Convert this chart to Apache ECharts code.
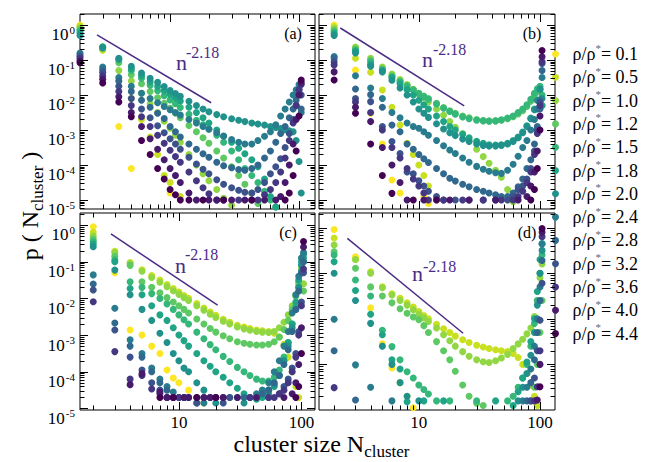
<!DOCTYPE html>
<html><head><meta charset="utf-8">
<script src="https://cdn.jsdelivr.net/npm/echarts@6/dist/echarts.min.js"></script>
<style>html,body{margin:0;padding:0;background:#fff}#c{width:651px;height:462px}</style>
</head><body><div id="c"></div>
<script>
const _ = null;
// cluster sizes at which values were read
const sizes = [2,3,4,5,6,7,8,9, 10,11,12,14,16,18,20,23, 26,30,34,38,43,48,54,60, 66,72,78,84,90,95,100,104];
const densities = ['0.1','0.5','1.0','1.2','1.5','1.8','2.0','2.4','2.8','3.2','3.6','4.0','4.4'];
const colors = ['#fde725','#c8e020','#90d743','#5ec962','#35b779','#20a486','#21918c','#287c8e','#31688e','#3b528b','#453781','#481a6c','#440154'];
const xTickLabels = ['10','100'];
const yTickExponents = [0,-1,-2,-3,-4,-5];

// values, as decades: log10 p(N_cluster)
// panel (a)
const a_01 = [0.0,-1.5,-2.9,-4.1,_,_,_,_, -4.8,_,_,_,_,_,_,_, _,_,_,_,_,_,_,_, _,_,_,_,_,_,_,_];
const a_05 = [-0.03,-0.72,-1.6,-2.1,-2.7,-3.2,-3.7,-4.3, -4.5,_,-4.9,_,_,_,_,_, _,_,_,_,_,_,_,_, _,_,_,_,_,_,_,_];
const a_10 = [-0.08,-0.68,-1.3,-1.6,-1.95,-2.25,-2.5,-2.75, -2.95,-3.15,-3.35,-3.7,-4.0,-4.25,-4.45,-4.7, -4.95,-5.15,_,_,_,_,_,_, _,_,_,_,_,_,_,_];
const a_12 = [-0.12,-0.64,-1.08,-1.42,-1.68,-1.9,-2.08,-2.24, -2.38,-2.52,-2.65,-2.87,-3.05,-3.22,-3.38,-3.6, -3.8,-4.05,-4.3,-4.55,-4.8,-5.1,_,_, _,_,_,_,_,_,_,_];
const a_15 = [-0.17,-0.62,-1.0,-1.3,-1.52,-1.72,-1.88,-2.02, -2.14,-2.25,-2.36,-2.55,-2.72,-2.85,-2.97,-3.15, -3.35,-3.6,-3.85,-4.1,-4.3,-4.5,-4.75,-5.0, -5.2,_,_,_,_,_,_,_];
const a_18 = [-0.22,-0.63,-0.98,-1.25,-1.45,-1.62,-1.76,-1.88, -1.98,-2.08,-2.17,-2.35,-2.5,-2.65,-2.8,-3.0, -3.18,-3.35,-3.52,-3.68,-3.85,-4.05,-4.4,-4.9, -5.2,_,_,_,_,_,_,_];
const a_20 = [-0.3,-0.66,-0.95,-1.18,-1.37,-1.52,-1.64,-1.76, -1.87,-1.96,-2.04,-2.18,-2.3,-2.4,-2.48,-2.56, -2.62,-2.68,-2.72,-2.76,-2.8,-2.83,-2.86,-2.9, -2.93,-2.96,-2.99,-3.02,-3.05,-3.3,-3.9,-4.8];
const a_24 = [-0.8,-1.2,-1.5,-1.75,-1.95,-2.1,-2.22,-2.33, -2.42,-2.5,-2.57,-2.7,-2.8,-2.9,-2.98,-3.08, -3.17,-3.27,-3.35,-3.4,-3.4,-3.3,-3.18,-3.05, -2.85,-2.6,-2.4,-2.2,-2.0,-1.85,-1.7,-2.5];
const a_28 = [-0.85,-1.28,-1.6,-1.9,-2.15,-2.35,-2.52,-2.67, -2.9,-3.05,-3.2,-3.4,-3.55,-3.68,-3.78,-3.92, -4.02,-4.08,-4.13,-4.15,-4.1,-4.0,-3.8,-3.6, -3.35,-3.1,-2.9,-2.65,-2.4,-2.15,-1.95,-2.4];
const a_32 = [-0.9,-1.35,-1.75,-2.1,-2.4,-2.65,-2.88,-3.08, -3.25,-3.4,-3.55,-3.78,-3.97,-4.12,-4.25,-4.42, -4.55,-4.65,-4.72,-4.78,-4.8,-4.7,-4.5,-4.25, -4.05,-3.82,-3.5,-3.1,-2.7,-2.3,-1.85,-2.0];
const a_36 = [-0.95,-1.45,-1.9,-2.3,-2.62,-2.9,-3.15,-3.38, -3.58,-3.76,-3.92,-4.2,-4.45,-4.65,-4.82,-5.0, -5.0,_,-5.0,_,-5.0,-5.0,-4.85,-4.7, -4.5,-4.2,-3.8,-3.3,-2.8,-2.3,-1.85,-1.7];
const a_40 = [-1.02,-1.55,-2.05,-2.5,-2.9,-3.25,-3.55,-3.85, -4.1,-4.3,-4.5,-4.8,-5.0,_,-5.0,-5.0, _,-5.0,_,-5.0,_,_,-5.0,_, -5.0,-4.9,-4.5,-4.0,-3.4,-2.7,-2.0,-1.65];
const a_44 = [-1.08,-1.66,-2.2,-2.62,-3.3,-3.7,-4.1,-4.4, -4.7,-4.85,-5.0,-5.0,_,-5.0,_,_, -5.0,_,_,_,-5.0,_,_,_, _,_,-5.0,-4.8,-4.3,-3.6,-2.6,-1.57];
// panel (b)
const b_01 = [0.0,-1.29,-2.52,-3.4,-4.43,-4.8,_,_, _,-4.9,-5.1,_,_,_,_,_, _,_,_,_,_,_,_,_, _,_,_,_,_,_,_,_];
const b_05 = [-0.05,-0.95,-1.35,-1.86,-2.35,-2.86,-3.38,-3.7, -4.0,-4.3,-4.6,-5.0,_,_,_,_, _,_,_,_,_,_,_,_, _,_,_,_,_,_,_,_];
const b_10 = [-0.1,-0.63,-0.95,-1.2,-1.4,-1.56,-1.7,-1.84, -1.97,-2.08,-2.2,-2.4,-2.58,-2.76,-2.92,-3.1, -3.3,-3.55,-3.76,-3.95,-4.15,-4.35,-4.7,-5.05, _,_,_,_,_,_,_,_];
const b_12 = [-0.15,-0.68,-1.0,-1.25,-1.45,-1.6,-1.73,-1.85, -1.95,-2.03,-2.1,-2.24,-2.36,-2.45,-2.52,-2.6, -2.65,-2.7,-2.73,-2.74,-2.74,-2.72,-2.68,-2.62, -2.54,-2.45,-2.33,-2.18,-2.0,-1.9,-1.85,-2.3];
const b_15 = [-0.2,-0.72,-1.05,-1.28,-1.48,-1.62,-1.75,-1.86, -1.96,-2.05,-2.12,-2.26,-2.38,-2.47,-2.55,-2.63, -2.68,-2.72,-2.74,-2.75,-2.74,-2.71,-2.66,-2.6, -2.5,-2.4,-2.28,-2.12,-1.95,-1.82,-1.75,-2.0];
const b_18 = [-0.25,-0.75,-1.12,-1.3,-1.5,-1.68,-1.85,-2.0, -2.15,-2.28,-2.4,-2.6,-2.76,-2.9,-3.0,-3.12, -3.22,-3.32,-3.38,-3.42,-3.43,-3.42,-3.38,-3.3, -3.2,-3.06,-2.88,-2.66,-2.4,-2.15,-1.85,-2.3];
const b_20 = [-0.3,-0.8,-1.18,-1.34,-1.58,-1.8,-2.0,-2.2, -2.4,-2.52,-2.64,-2.82,-2.97,-3.08,-3.16,-3.26, -3.33,-3.4,-3.44,-3.46,-3.46,-3.44,-3.4,-3.33, -3.22,-3.08,-2.9,-2.68,-2.42,-2.15,-1.82,-2.1];
const b_24 = [-0.9,-1.45,-1.8,-2.1,-2.5,-2.65,-2.8,-2.9, -2.95,-3.05,-3.15,-3.3,-3.45,-3.57,-3.67,-3.8, -3.92,-4.04,-4.12,-4.18,-4.22,-4.24,-4.15,-3.98, -3.75,-3.5,-3.3,-3.0,-2.7,-2.4,-2.14,-1.5];
const b_28 = [-0.95,-1.83,-1.99,-2.35,-2.86,-3.05,-3.4,-3.55, -3.7,-3.82,-3.93,-4.1,-4.25,-4.38,-4.46,-4.55, -4.62,-4.7,-4.75,-4.8,-4.85,-4.9,-4.9,-4.8, -4.62,-4.4,-4.1,-3.85,-3.4,-2.9,-2.4,-1.3];
const b_32 = [-1.05,-2.1,-2.19,-2.9,-3.33,-3.67,-4.2,-4.25, -4.45,-4.6,-4.75,-4.9,-5.0,_,-5.0,_, -5.0,_,-5.0,_,-5.0,_,-5.0,-4.9, -4.7,-4.6,-4.4,-4.1,-3.6,-3.0,-2.2,-1.1];
const b_36 = [-1.14,-2.2,-2.5,-3.0,-3.5,-3.8,-4.1,-4.4, -4.6,-4.8,-5.0,_,-5.0,_,_,-5.0, _,_,-5.0,_,_,-5.0,_,-5.0, -4.9,-4.75,-4.5,-4.2,-3.7,-3.1,-2.3,-1.05];
const b_40 = [-1.34,-2.35,-2.76,-3.5,-4.0,-4.5,-5.0,_, _,-5.0,_,_,_,-5.0,_,_, -5.0,_,_,_,-5.0,_,_,_, -5.0,_,-4.9,-4.6,-4.2,-3.6,-2.6,-0.91];
const b_44 = [-1.57,-2.52,-3.4,-4.3,-4.81,_,_,-5.0, _,_,_,-5.0,_,_,_,_, _,_,_,_,_,_,_,_, _,_,_,-5.0,-4.7,-4.1,-3.0,-0.73];
// panel (c)
const c_01 = [-0.05,-1.3,-2.86,-3.0,-3.3,-3.5,-3.95,-4.17, -4.3,_,-4.5,-4.7,-4.85,_,_,_, _,_,_,_,_,_,_,_, _,_,_,_,_,_,_,_];
const c_05 = [-0.2,-0.72,-1.02,-1.22,-1.38,-1.5,-1.62,-1.73, -1.83,-1.92,-2.0,-2.14,-2.26,-2.37,-2.46,-2.57, -2.65,-2.73,-2.78,-2.82,-2.86,-2.88,-2.9,-2.95, -3.05,-3.25,-3.6,-4.0,-4.4,-4.7,_,_];
const c_10 = [-0.3,-0.75,-1.05,-1.26,-1.43,-1.56,-1.68,-1.79, -1.89,-1.98,-2.06,-2.2,-2.32,-2.43,-2.52,-2.62, -2.7,-2.78,-2.83,-2.87,-2.9,-2.92,-2.93,-2.9, -2.8,-2.65,-2.45,-2.2,-1.9,-1.55,-1.2,-1.6];
const c_12 = [-0.38,-0.85,-1.1,-1.55,-1.7,-1.85,-1.98,-2.1, -2.2,-2.3,-2.4,-2.56,-2.7,-2.82,-2.92,-3.02, -3.1,-3.18,-3.22,-3.25,-3.27,-3.27,-3.25,-3.18, -3.05,-2.85,-2.6,-2.3,-1.95,-1.6,-1.3,-1.8];
const c_15 = [-0.45,-0.95,-1.55,-1.7,-1.87,-2.0,-2.15,-2.3, -2.45,-2.58,-2.7,-2.92,-3.1,-3.26,-3.4,-3.58, -3.72,-3.88,-4.0,-4.1,-4.2,-4.25,-4.25,-4.15, -3.95,-3.6,-3.2,-2.7,-2.2,-1.7,-1.25,-1.0];
const c_18 = [-0.52,-1.0,-1.73,-1.9,-2.2,-2.45,-2.6,-2.8, -3.0,-3.15,-3.3,-3.5,-3.7,-3.85,-4.0,-4.15, -4.3,-4.45,-4.6,-4.7,-4.75,-4.7,-4.6,-4.4, -4.1,-3.7,-3.2,-2.7,-2.1,-1.5,-1.0,-0.9];
const c_20 = [-0.59,-1.23,-1.9,-2.3,-2.6,-2.95,-3.2,-3.5, -3.7,-3.9,-4.0,-4.3,-4.5,-4.7,-4.85,_, -4.7,_,-4.85,_,-4.7,-4.6,-4.5,-4.35, -4.1,-3.7,-3.3,-2.8,-2.3,-1.7,-1.1,-0.8];
const c_24 = [-1.36,-2.27,-3.13,-3.5,-3.9,-4.2,-4.4,-4.55, -4.7,_,-4.7,_,-4.85,_,-4.7,_, _,-4.7,_,_,-4.6,-4.5,-4.3,-4.0, -3.7,-3.3,-2.9,-2.4,-1.9,-1.4,-0.9,-0.75];
const c_28 = [-1.61,-2.67,-3.3,-3.6,-4.0,-4.3,-4.5,-4.7, _,-4.7,_,-4.85,_,_,-4.7,_, _,_,-4.7,_,_,-4.6,-4.5,-4.3, -4.1,-3.8,-3.4,-2.9,-2.3,-1.8,-1.3,-1.0];
const c_32 = [-1.77,-2.86,-3.6,-3.95,-4.3,-4.5,-4.7,_, -4.7,_,-4.7,-4.85,_,-4.7,_,-4.85, -4.7,_,_,-4.7,_,_,-4.7,_, -4.6,-4.4,-4.2,-3.9,-3.5,-2.9,-2.1,-1.3];
const c_36 = [-2.09,-3.45,-4.2,-4.1,-4.47,-4.6,-4.7,_, -4.7,-4.7,_,-4.7,-4.7,_,-4.7,-4.7, _,_,_,-4.7,_,_,-4.7,-4.7, -4.6,-4.5,-4.3,-4.0,-3.6,-3.0,-2.2,-1.2];
const c_40 = [_,_,-4.35,-4.05,_,-4.55,-4.7,-4.7, _,-4.7,-4.7,_,-4.7,-4.7,_,-4.7, _,-4.7,_,_,-4.7,_,_,_, _,-4.7,_,-4.6,-4.3,-3.8,-2.8,-0.6];
const c_44 = [_,_,_,_,_,-4.7,_,-4.7, _,_,_,-4.7,_,_,-4.7,_, _,_,_,_,_,_,_,_, _,_,_,_,-4.7,-4.4,-3.5,-0.45];
// panel (d)
const d_01 = [-0.04,-0.64,-1.76,-2.55,-3.08,-3.4,-3.7,-3.95, _,_,_,_,_,_,_,_, _,_,_,_,_,_,_,_, _,_,_,_,_,_,_,_];
const d_05 = [-0.23,-0.7,-0.97,-1.3,-1.45,-1.55,-1.65,-1.74, -1.84,-1.93,-2.0,-2.12,-2.22,-2.3,-2.38,-2.46, -2.52,-2.58,-2.62,-2.65,-2.68,-2.7,-2.72,-2.76, -2.85,-3.0,-3.2,-3.45,-3.7,-3.9,_,_];
const d_10 = [-0.38,-0.7,-1.0,-1.32,-1.48,-1.6,-1.7,-1.8, -1.9,-1.98,-2.06,-2.2,-2.35,-2.48,-2.6,-2.72, -2.82,-2.9,-2.94,-2.96,-2.92,-2.86,-2.78,-2.65, -2.55,-2.45,-2.33,-2.2,-1.95,-1.6,-1.1,-0.8];
const d_12 = [-0.53,-0.89,-1.3,-1.5,-1.65,-1.78,-1.88,-1.96, -2.02,-2.15,-2.3,-2.5,-2.7,-2.9,-3.15,-3.45, -3.7,-3.85,-3.9,_,_,_,_,_, _,_,_,-3.8,-3.5,-3.0,-2.3,-1.6];
const d_15 = [-0.6,-1.15,-1.5,-2.25,-2.61,-2.9,-3.16,-3.3, -3.45,-3.55,-3.65,-3.8,_,-3.8,_,_, _,-3.8,_,_,_,_,-3.8,-3.7, -3.5,-3.3,-3.0,-2.6,-2.1,-1.6,-1.0,-0.6];
const d_18 = [-0.75,-1.38,-1.9,-2.35,-2.9,-3.1,-3.82,_, _,-3.8,_,_,-3.8,_,_,_, _,_,_,_,-3.8,_,_,-3.9, -3.6,-3.3,-2.95,-2.5,-2.0,-1.4,-0.7,-0.35];
const d_20 = [-1.0,-1.6,-2.1,-2.6,-3.0,-3.4,-3.7,_, -3.8,_,_,_,_,_,_,_, _,_,_,_,_,_,_,_, -3.8,-3.5,-3.2,-2.8,-2.3,-1.7,-1.0,-0.5];
const d_24 = [-2.01,-3.01,-3.5,_,-3.8,_,_,_, _,_,_,_,_,_,_,_, _,_,_,_,_,_,_,_, _,-3.8,-3.5,-3.1,-2.6,-2.0,-1.3,-0.36];
const d_28 = [-2.7,-3.78,_,_,_,_,_,_, _,_,_,_,_,_,_,_, _,_,_,_,_,_,_,_, _,_,-3.8,-3.4,-2.9,-2.3,-1.6,-0.72];
const d_32 = [_,_,_,_,_,_,_,_, _,_,_,_,_,_,_,_, _,_,_,_,_,_,_,_, _,_,_,-3.8,-3.3,-2.7,-2.03,-1.22];
const d_36 = [-3.51,_,_,_,_,_,_,_, _,_,_,_,_,_,_,_, _,_,_,_,_,_,_,_, _,_,_,_,-3.8,-3.49,-2.7,-0.2];
const d_40 = [_,_,_,_,_,_,_,_, _,_,_,_,_,_,_,_, _,_,_,_,_,_,_,_, _,_,_,_,_,-3.78,-3.0,-0.1];
const d_44 = [_,_,_,_,_,_,_,_, _,_,_,_,_,_,_,_, _,_,_,_,_,_,_,_, _,_,_,_,_,_,-3.49,-0.02];

// guide lines n^-2.18 : [N, p] end points
const guideA = [[2.71, 0.52], [20.8, 0.006]];
const guideB = [[2.25, 0.82], [23.7, 0.00485]];
const guideC = [[2.79, 0.569], [20.7, 0.0066]];
const guideD = [[2.57, 0.582], [23.2, 0.00481]];

const SERIF = 'Liberation Serif';
const PURPLE = '#4b2c85';

const panels = [
  {key:'a', grid:{left:80, top:14, width:235, height:195}, x:[2,133], y:[5.53e-6,2.06], showX:false, showY:true,
   sets:[a_01,a_05,a_10,a_12,a_15,a_18,a_20,a_24,a_28,a_32,a_36,a_40,a_44], guide:guideA},
  {key:'b', grid:{left:319, top:14, width:236, height:195}, x:[1.5,133], y:[5.53e-6,2.06], showX:false, showY:false,
   sets:[b_01,b_05,b_10,b_12,b_15,b_18,b_20,b_24,b_28,b_32,b_36,b_40,b_44], guide:guideB},
  {key:'c', grid:{left:80, top:213, width:235, height:197}, x:[1.56,129], y:[9.1e-6,2.12], showX:true, showY:true,
   sets:[c_01,c_05,c_10,c_12,c_15,c_18,c_20,c_24,c_28,c_32,c_36,c_40,c_44], guide:guideC},
  {key:'d', grid:{left:319, top:213, width:236, height:197}, x:[1.5,133], y:[1e-4,2.09], showX:true, showY:false,
   sets:[d_01,d_05,d_10,d_12,d_15,d_18,d_20,d_24,d_28,d_32,d_36,d_40,d_44], guide:guideD}
];

function isDecade(v) { const l = Math.log10(v); return Math.abs(l - Math.round(l)) < 1e-6; }
function xFmt(v) { if (!isDecade(v)) return ''; const s = String(Math.round(v)); return xTickLabels.indexOf(s) >= 0 ? s : ''; }
function yFmt(v) { if (!isDecade(v)) return ''; const e = Math.round(Math.log10(v)); return yTickExponents.indexOf(e) >= 0 ? '{b|10}{s|' + e + '}' : ''; }

function tickData(p) {
  const out = [];
  for (let e = -6; e <= 3; e++) {
    for (let k = 1; k <= 9; k++) {
      const v = k * Math.pow(10, e);
      if (v > p.x[0] * 1.0001 && v < p.x[1] * 0.9999) out.push([v, p.y[0], k === 1 ? 0 : 1]);
      if (v > p.y[0] * 1.0001 && v < p.y[1] * 0.9999) out.push([p.x[0], v, k === 1 ? 2 : 3]);
    }
  }
  return out;
}
function tickRenderer(p) {
  return function (params, api) {
    const kind = api.value(2);
    const L = (kind === 0 || kind === 2) ? 8 : 4.5;
    const st = {stroke:'#000', lineWidth:1};
    if (kind < 2) {
      const b = api.coord([api.value(0), p.y[0]]), t = api.coord([api.value(0), p.y[1]]);
      const x = Math.round(b[0]) + 0.5;
      return {type:'group', children:[
        {type:'line', shape:{x1:x, y1:b[1], x2:x, y2:b[1] - L}, style:st},
        {type:'line', shape:{x1:x, y1:t[1], x2:x, y2:t[1] + L}, style:st}]};
    }
    const l = api.coord([p.x[0], api.value(1)]), r = api.coord([p.x[1], api.value(1)]);
    const y = Math.round(l[1]) + 0.5;
    return {type:'group', children:[
      {type:'line', shape:{x1:l[0], y1:y, x2:l[0] + L, y2:y}, style:st},
      {type:'line', shape:{x1:r[0], y1:y, x2:r[0] - L, y2:y}, style:st}]};
  };
}

const grids = [], xAxes = [], yAxes = [], series = [];
panels.forEach((p, i) => {
  grids.push(Object.assign({show:true, borderColor:'#000', borderWidth:1, backgroundColor:'transparent', containLabel:false}, p.grid));
  xAxes.push({type:'log', logBase:10, gridIndex:i, min:p.x[0], max:p.x[1],
    axisLine:{show:false}, axisTick:{show:false}, splitLine:{show:false}, minorTick:{show:false},
    axisLabel:{show:p.showX, margin:4, fontFamily:SERIF, fontSize:17, color:'#000', formatter:xFmt, showMinLabel:true, showMaxLabel:true}});
  yAxes.push({type:'log', logBase:10, gridIndex:i, min:p.y[0], max:p.y[1],
    axisLine:{show:false}, axisTick:{show:false}, splitLine:{show:false}, minorTick:{show:false},
    axisLabel:{show:p.showY, margin:5, color:'#000', formatter:yFmt,
      rich:{b:{fontFamily:SERIF, fontSize:17, lineHeight:17, padding:[10,0,0,0], verticalAlign:'top', color:'#000'},
            s:{fontFamily:SERIF, fontSize:11, lineHeight:11, padding:[8,0,0,1], verticalAlign:'top', color:'#000'}}}});
  p.sets.forEach((arr, k) => {
    const data = [];
    sizes.forEach((n, j) => { if (arr[j] !== null && arr[j] !== undefined) data.push([n, Math.pow(10, arr[j])]); });
    series.push({type:'scatter', name:'ρ/ρ* = ' + densities[k], xAxisIndex:i, yAxisIndex:i, symbol:'circle', symbolSize:7,
      itemStyle:{color:colors[k], opacity:1}, data:data, clip:false, silent:true, animation:false, z:2});
  });
  series.push({type:'line', xAxisIndex:i, yAxisIndex:i, data:p.guide, symbol:'none', silent:true, animation:false,
    lineStyle:{color:PURPLE, width:1.5}, z:3});
  series.push({type:'custom', xAxisIndex:i, yAxisIndex:i, data:tickData(p), encode:{x:0, y:1}, renderItem:tickRenderer(p),
    silent:true, animation:false, clip:false, z:4});
});

function txt(x, y, text, size, color, align) {
  return {type:'text', x:x, y:y, silent:true, style:{text:text, fontFamily:SERIF, fontSize:size, fill:color,
    align:align || 'left', textAlign:align || 'left', verticalAlign:'middle', textVerticalAlign:'middle'}};
}
const graphic = [
  txt(293, 33, '(a)', 16, '#000', 'center'),
  txt(532, 33, '(b)', 16, '#000', 'center'),
  txt(288, 232, '(c)', 16, '#000', 'center'),
  txt(527, 232, '(d)', 16, '#000', 'center'),
  txt(176, 62.5, 'n', 22, PURPLE), txt(186, 52, '-2.18', 16, PURPLE),
  txt(422, 59.5, 'n', 22, PURPLE), txt(433, 49, '-2.18', 16, PURPLE),
  txt(175, 265.5, 'n', 22, PURPLE), txt(185, 254, '-2.18', 16, PURPLE),
  txt(412, 273.5, 'n', 22, PURPLE), txt(423, 266, '-2.18', 16, PURPLE),
  {type:'text', x:321.5, y:444, silent:true, style:{text:'{m|cluster size N}{s|cluster}', align:'center', textAlign:'center',
    verticalAlign:'middle', textVerticalAlign:'middle', fill:'#000',
    rich:{m:{fontFamily:SERIF, fontSize:24, lineHeight:24, verticalAlign:'top', fill:'#000', color:'#000'},
          s:{fontFamily:SERIF, fontSize:17, lineHeight:17, padding:[11,0,0,0], verticalAlign:'top', fill:'#000', color:'#000'}}}},
  {type:'text', x:30, y:206, rotation:Math.PI / 2, silent:true, style:{text:'{m|p ( N}{s|cluster}{m| )}', align:'center', textAlign:'center',
    verticalAlign:'middle', textVerticalAlign:'middle', fill:'#000',
    rich:{m:{fontFamily:SERIF, fontSize:24, lineHeight:24, verticalAlign:'top', fill:'#000', color:'#000'},
          s:{fontFamily:SERIF, fontSize:17, lineHeight:17, padding:[11,0,0,0], verticalAlign:'top', fill:'#000', color:'#000'}}}}
];

const chart = echarts.init(document.getElementById('c'), null, {renderer:'svg'});
chart.setOption({
  backgroundColor:'#fff',
  animation:false,
  grid:grids, xAxis:xAxes, yAxis:yAxes, series:series, graphic:graphic,
  legend:{data:densities.map(d => 'ρ/ρ* = ' + d), orient:'vertical', left:552, top:42, itemWidth:24, itemHeight:7, itemGap:2.3,
    icon:'circle', selectedMode:false, padding:0,
    formatter:name => '{a|ρ/ρ}{s|*}{a|= ' + name.split('= ')[1] + '}',
    textStyle:{fontFamily:SERIF, fontSize:18, color:'#000',
      rich:{a:{fontFamily:SERIF, fontSize:18, lineHeight:24, verticalAlign:'middle', color:'#000'},
            s:{fontFamily:SERIF, fontSize:11, lineHeight:11, verticalAlign:'top', color:'#666'}}}}
});
</script></body></html>
